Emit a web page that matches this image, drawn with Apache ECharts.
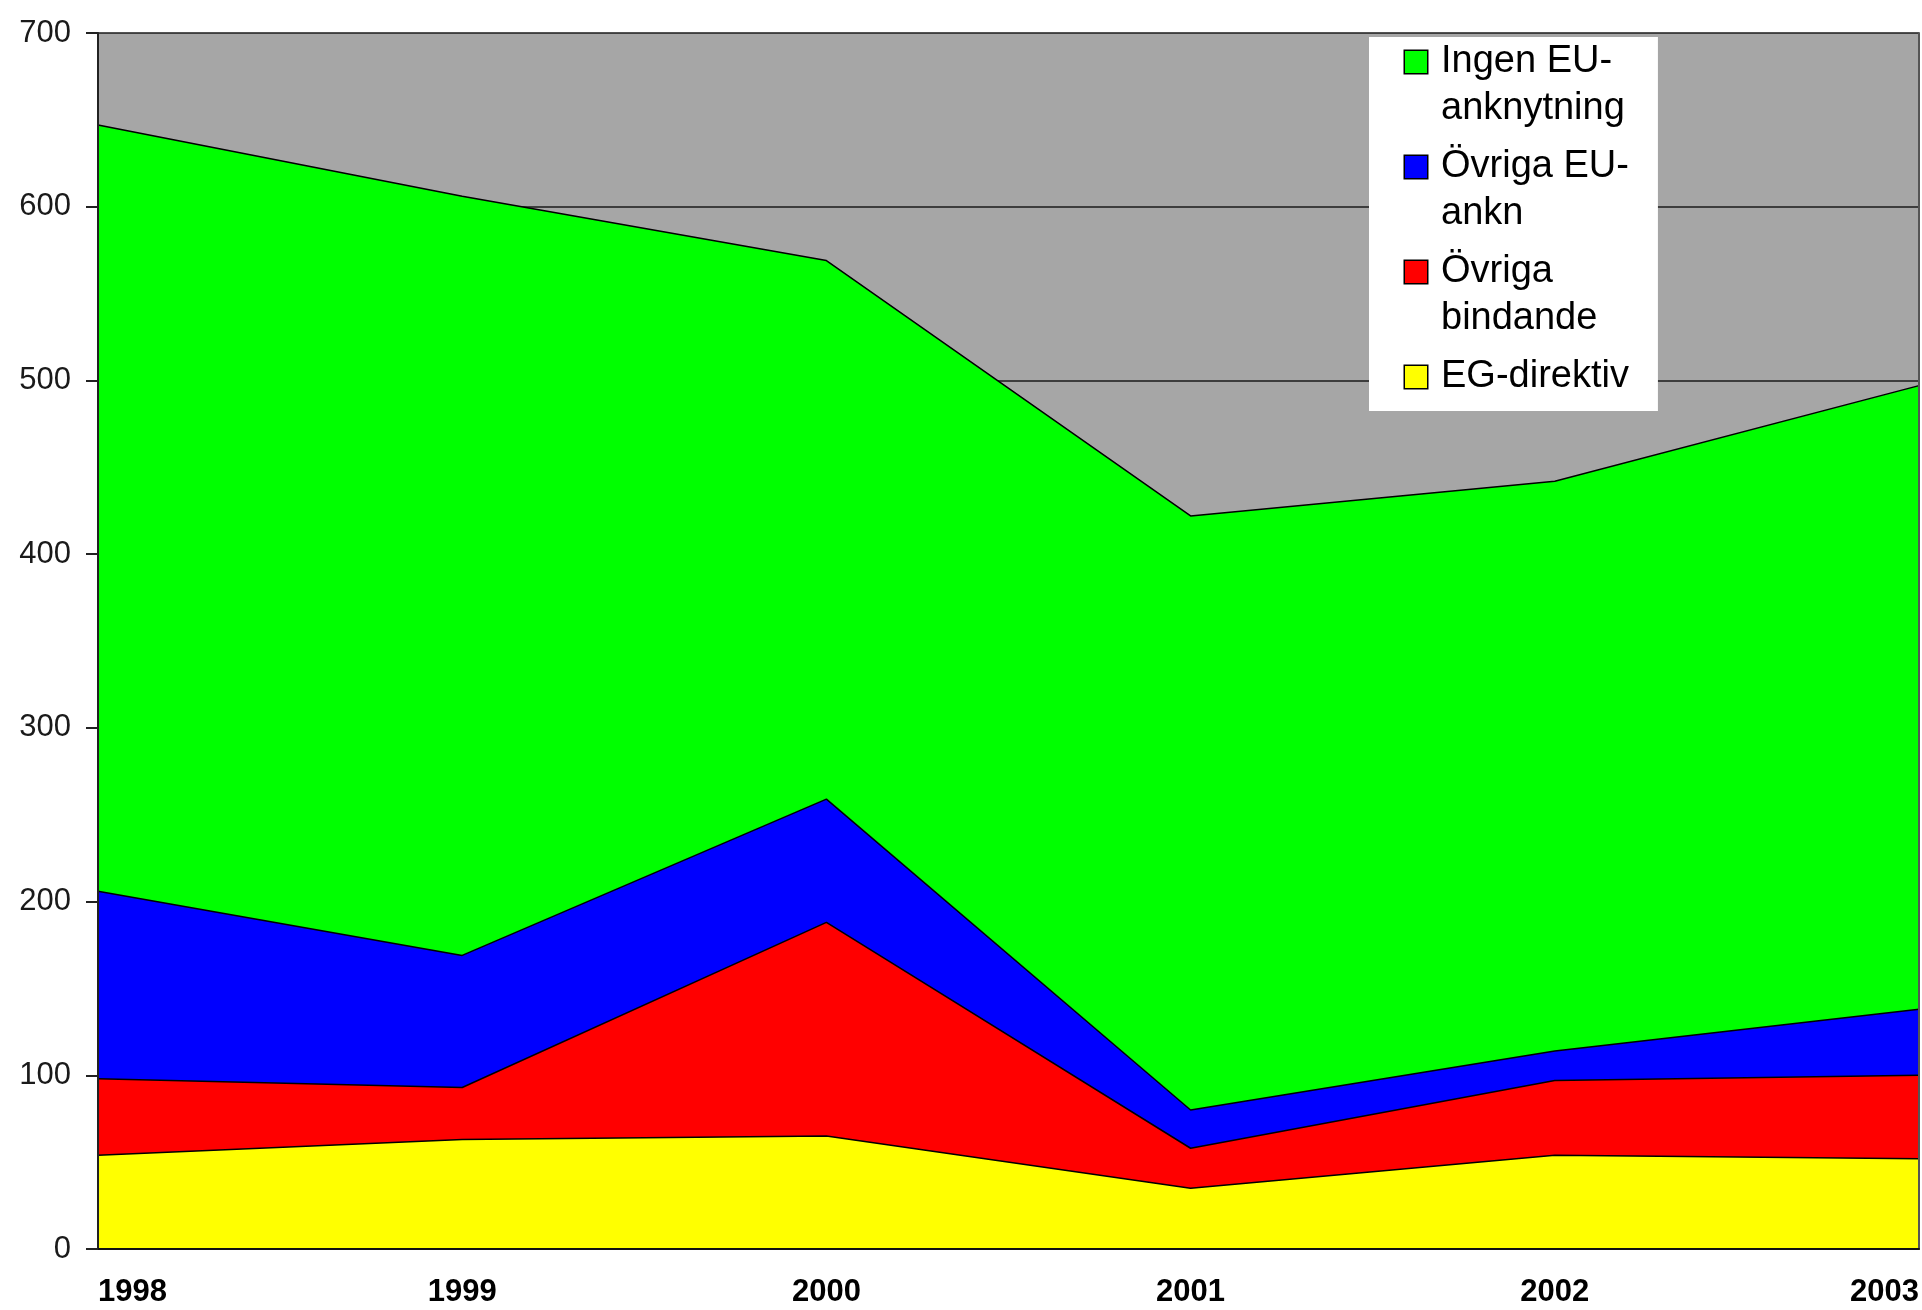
<!DOCTYPE html>
<html>
<head>
<meta charset="utf-8">
<title>EU-anknytning 1998-2003</title>
<script src="https://cdn.jsdelivr.net/npm/echarts@6/dist/echarts.min.js"></script>
<style>
  html, body { margin: 0; padding: 0; background: #fff; }
  #chart { width: 1922px; height: 1310px; }
</style>
</head>
<body>
<div id="chart"></div>
<script>
// data
const years = ['1998', '1999', '2000', '2001', '2002', '2003'];
const egDirektiv = [54, 63, 65, 35, 54, 52];
const ovrigaBindande = [44, 30, 123, 23, 43, 48];
const ovrigaEuAnkn = [108, 76, 71, 22, 17, 38];
const ingenEuAnknytning = [441, 437, 310, 342, 328, 359];
const yMin = 0, yMax = 700, yStep = 100;

const seriesNames = ['EG-direktiv', 'Övriga bindande', 'Övriga EU-ankn', 'Ingen EU-anknytning'];
const seriesData = [egDirektiv, ovrigaBindande, ovrigaEuAnkn, ingenEuAnknytning];
const seriesColors = ['#ffff00', '#ff0000', '#0000ff', '#00ff00'];
const iconKeys = ['y', 'r', 'b', 'g'];
// legend text as it wraps in the picture
const legendLines = {
    'Ingen EU-anknytning': ['Ingen EU-', 'anknytning'],
    'Övriga EU-ankn': ['Övriga EU-', 'ankn'],
    'Övriga bindande': ['Övriga', 'bindande'],
    'EG-direktiv': ['EG-direktiv']
};

const chart = echarts.init(document.getElementById('chart'));

// legend squares drawn as rich text boxes so they sit on the first line
const rich = {
    t: { fontFamily: 'Liberation Sans', fontSize: 38, lineHeight: 47, color: '#000', padding: [0, 0, 0, 14] },
    sp: { width: 22, height: 22, lineHeight: 47 }
};
iconKeys.forEach((k, i) => {
    rich[k] = {
        width: 22, height: 22, lineHeight: 47, verticalAlign: 'middle',
        backgroundColor: seriesColors[i], borderColor: '#000', borderWidth: 1.5
    };
});

const axisFont = { fontFamily: 'Liberation Sans', color: '#1a1a1a' };

chart.setOption({
    animation: false,
    backgroundColor: '#fff',
    legend: {
        orient: 'vertical',
        left: 1369,
        top: 37,
        padding: [6, 29, 15, 31],
        itemGap: 20,
        itemWidth: 0,
        itemHeight: 0,
        icon: 'rect',
        itemStyle: { opacity: 0 },
        backgroundColor: '#fff',
        selectedMode: false,
        data: ['Ingen EU-anknytning', 'Övriga EU-ankn', 'Övriga bindande', 'EG-direktiv'],
        formatter: name => {
            const key = iconKeys[seriesNames.indexOf(name)];
            const lines = legendLines[name];
            let s = `{${key}|}{t|${lines[0]}}`;
            if (lines[1]) s += `\n{sp|}{t|${lines[1]}}`;
            return s;
        },
        textStyle: { rich: rich }
    },
    grid: {
        left: 98, right: 3, top: 33, bottom: 61,
        outerBoundsMode: 'none',
        show: true,
        backgroundColor: '#a6a6a6',
        borderWidth: 0
    },
    xAxis: {
        type: 'category',
        data: years,
        boundaryGap: false,
        z: 5,
        axisLine: { lineStyle: { color: '#111', width: 2 } },
        axisTick: { show: false },
        axisLabel: {
            ...axisFont, fontSize: 31, fontWeight: 'bold', color: '#000', margin: 28,
            alignMinLabel: 'left', alignMaxLabel: 'right'
        },
        splitLine: { show: false }
    },
    yAxis: [
        {
            // gridlines only, kept under the areas
            type: 'value', min: yMin, max: yMax, interval: yStep,
            position: 'left',
            axisLine: { show: false },
            axisTick: { show: false },
            axisLabel: { show: false },
            splitLine: { show: true, lineStyle: { color: '#1a1a1a', width: 1.5 } }
        },
        {
            // visible axis line, ticks and labels, above the areas
            type: 'value', min: yMin, max: yMax, interval: yStep,
            position: 'left', z: 5,
            axisLine: { show: true, lineStyle: { color: '#222', width: 2 } },
            axisTick: { show: true, inside: false, length: 12, lineStyle: { color: '#222', width: 2 } },
            axisLabel: { ...axisFont, fontSize: 31, margin: 27 },
            splitLine: { show: false }
        },
        {
            // right border of the plot area
            type: 'value', min: yMin, max: yMax, interval: yStep,
            position: 'right', z: 5,
            axisLine: { show: true, lineStyle: { color: '#555', width: 2 } },
            axisTick: { show: false },
            axisLabel: { show: false },
            splitLine: { show: false }
        }
    ],
    series: seriesNames.map((name, i) => ({
        name: name,
        type: 'line',
        stack: 'total',
        yAxisIndex: 0,
        data: seriesData[i],
        showSymbol: false,
        symbol: 'none',
        color: seriesColors[i],
        lineStyle: { color: '#000', width: 1.5 },
        areaStyle: { color: seriesColors[i], opacity: 1 },
        emphasis: { disabled: true }
    }))
});
</script>
</body>
</html>
